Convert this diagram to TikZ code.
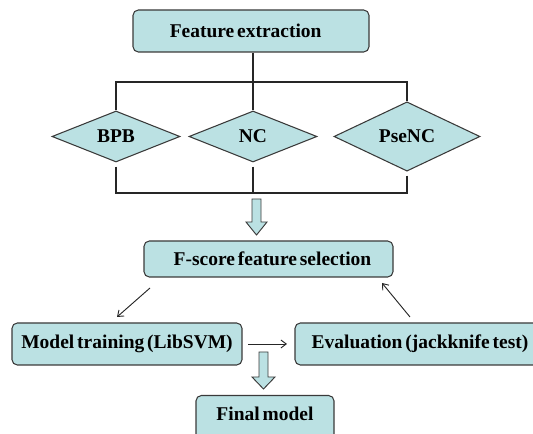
\documentclass[tikz,border=0pt]{standalone}
\usepackage{fontspec}
\setmainfont[WordSpace=0.6]{Liberation Serif}
\usetikzlibrary{shapes.geometric,arrows.meta}
\definecolor{boxfill}{HTML}{BBE1E3}
\definecolor{boxline}{HTML}{3A3A3A}
\tikzset{
  box/.style={draw=boxline, fill=boxfill, rounded corners=4pt, line width=0.8pt,
    inner sep=0pt, font=\fontsize{14.6}{16}\selectfont\bfseries},
  dia/.style={draw=boxline, fill=boxfill, diamond, inner sep=0pt, line width=0.8pt,
    font=\fontsize{14.6}{16}\selectfont\bfseries},
  conn/.style={draw=black!85, line width=0.8pt},
  thin/.style={draw=black!85, line width=0.7pt, -{Straight Barb[length=4pt,width=6pt]}},
  blockarrow/.style={draw=boxline, fill=boxfill, line width=0.7pt},
}
\begin{document}
\begin{tikzpicture}[x=0.75pt,y=-0.75pt]
\useasboundingbox (0,0) rectangle (533,434);
\clip (0,0) rectangle (533,434);
% boxes
\node[box, minimum width=177pt, minimum height=31.5pt] (fe) at (251,31) {\hspace{-8pt}Feature extraction};
\node[dia, minimum width=96pt, minimum height=38.25pt] (bpb) at (116,136.5) {BPB};
\node[dia, minimum width=96pt, minimum height=38.25pt] (nc) at (253,136.5) {NC};
\node[dia, minimum width=109.5pt, minimum height=38.25pt] (pse) at (407,136.5) {PseNC};
\node[box, minimum width=186.75pt, minimum height=27pt] (fs) at (268.5,259) {\hspace{6pt}F-score feature selection};
\node[box, minimum width=172.5pt, minimum height=31.5pt] (mt) at (127,344) {Model training (LibSVM)};
\node[box, minimum width=184.5pt, minimum height=31.5pt] (ev) at (418,344) {\hspace{3pt}Evaluation (jackknife test)};
\node[box, minimum width=103.5pt, minimum height=37.5pt, anchor=north] (fm) at (265,395) {\raisebox{10pt}{Final model}};
% connectors top
\coordinate (jt) at (253,82);
\coordinate (jb) at (253,193);
\draw[conn] (jt |- fe.south) -- (nc.north);
\draw[conn] (bpb.north) |- (jt) -| (pse.north);
\draw[conn, shorten <=3pt] (bpb.south) |- (jb);
\draw[conn, shorten <=3pt] (pse.south) |- (jb);
\draw[conn, shorten <=3pt] (nc.south) -- (jb);
% block arrow 1
\draw[blockarrow] (252,199) -- (261,199) -- (261,222) -- (267,222) -- (256.5,235) -- (246,222) -- (252,222) -- cycle;
% block arrow 2
\draw[blockarrow] (259,352) -- (268,352) -- (268,377) -- (275,377) -- (263.5,389) -- (252,377) -- (259,377) -- cycle;
% thin arrows
\coordinate (a1s) at (150,288);
\coordinate (a1e) at (117,317);
\coordinate (a2s) at (248,344);
\coordinate (a2e) at (287,344);
\coordinate (a3s) at (410,317);
\coordinate (a3e) at (382,283);
\draw[thin] (a1s) -- (a1e);
\draw[thin] (a2s) -- (a2e);
\draw[thin] (a3s) -- (a3e);
\end{tikzpicture}
\end{document}
